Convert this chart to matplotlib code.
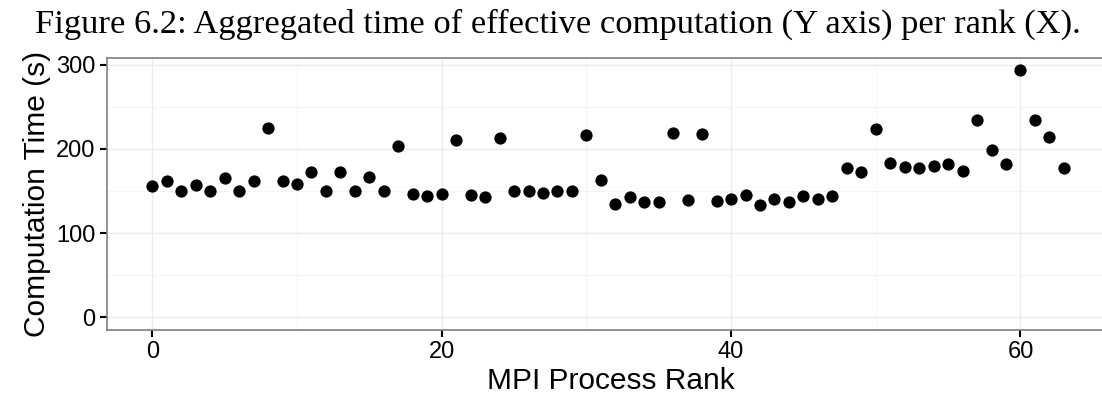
import matplotlib
matplotlib.use("Agg")
import matplotlib.pyplot as plt
from matplotlib.ticker import MultipleLocator

# MPI rank -> aggregated computation time (s)
ranks = list(range(64))
comp_time = [156.5, 162, 150.5, 157, 150.5, 166, 150.5, 162,
             225, 162, 158.5, 172, 150.5, 173, 150.5, 166.5,
             150, 203.5, 147, 144.5, 146, 211, 145.5, 143,
             213, 150, 150, 147.5, 150, 150, 217, 162.5,
             134.5, 142.5, 137, 137, 219, 139, 217.5, 138.5,
             140.5, 145, 133, 141, 136.5, 143.5, 140.5, 144.5,
             177, 172, 224, 183.5, 178.5, 177, 180, 182.5,
             173.5, 234.5, 199, 181.5, 294, 234, 214.5, 177.5]

title = "Figure 6.2: Aggregated time of effective computation (Y axis) per rank (X)."

fig = plt.figure(figsize=(11.02, 4.03), dpi=100)
# the panel runs past the right edge of the picture, as in the original crop
ax = fig.add_axes([106.7 / 1102, 1 - 329.5 / 403, (1115 - 106.7) / 1102, (329.5 - 57.5) / 403])
ax.patch.set_visible(False)

ax.scatter(ranks, comp_time, s=78, color="black", linewidths=0, zorder=3)

ax.set_xlim(-3.15, -3.15 + (1115 - 106.7) / 14.47)
ax.set_ylim(-14.7, 308.7)
ax.xaxis.set_major_locator(MultipleLocator(20))
ax.xaxis.set_minor_locator(MultipleLocator(10))
ax.yaxis.set_major_locator(MultipleLocator(100))
ax.yaxis.set_minor_locator(MultipleLocator(50))

ax.grid(which="major", color="#ebebeb", lw=1.0, zorder=0)
ax.grid(which="minor", color="#f4f4f4", lw=0.7, zorder=0)
ax.set_axisbelow(True)

for side in ["left", "top", "bottom"]:
    ax.spines[side].set_color("#808080")
    ax.spines[side].set_linewidth(1.2)
ax.spines["right"].set_visible(False)

ax.tick_params(which="major", length=5, width=1.5, color="black",
               labelsize=17, labelcolor="black", pad=3)
ax.tick_params(which="minor", length=0)
for lab in ax.get_xticklabels() + ax.get_yticklabels():
    lab.set_fontfamily("Liberation Sans")

ax.set_xlabel("MPI Process Rank", fontsize=21.5, family="Liberation Sans", labelpad=3)
ax.set_ylabel("Computation Time (s)", fontsize=21.5, family="Liberation Sans", labelpad=4)

fig.text(558 / 1102, 1 - 33 / 403, title, ha="center", va="baseline",
         fontsize=24.8, family="Liberation Serif")

fig.savefig("out.png", dpi=100)
